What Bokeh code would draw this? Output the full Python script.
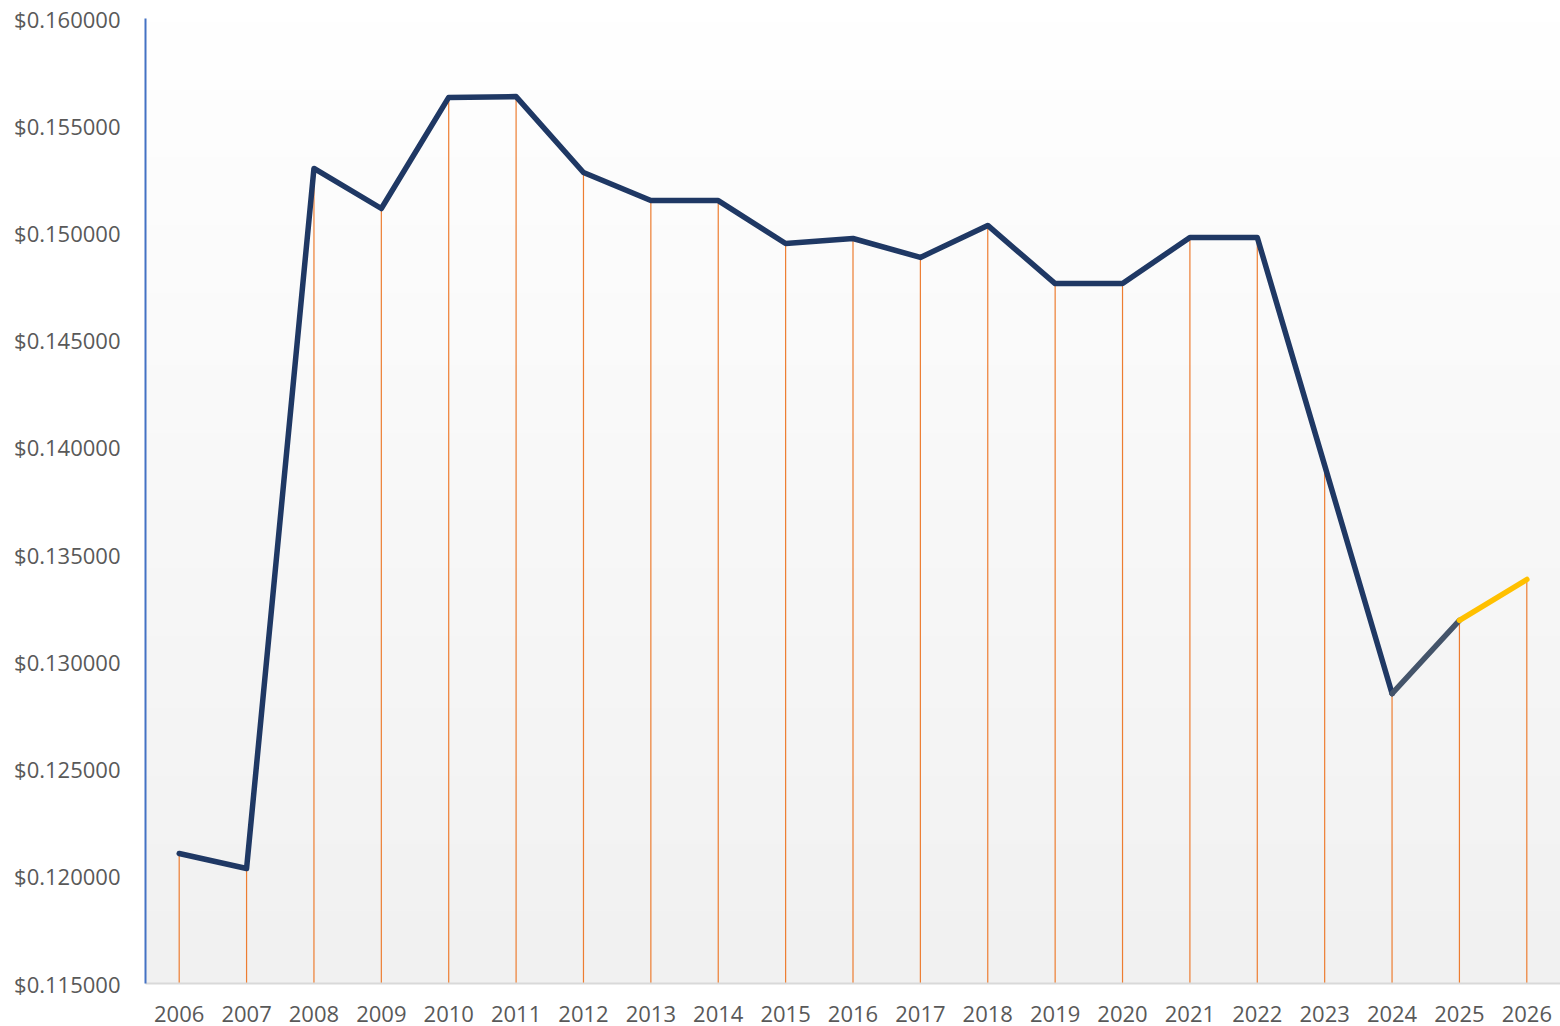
import numpy as np
from bokeh.plotting import figure
from bokeh.models import FixedTicker, NumeralTickFormatter, Range1d
from bokeh.embed import file_html
from bokeh.resources import INLINE

years = [2006, 2007, 2008, 2009, 2010, 2011, 2012, 2013, 2014, 2015, 2016,
         2017, 2018, 2019, 2020, 2021, 2022, 2023, 2024, 2025, 2026]
prices = [0.12106, 0.12036, 0.15301, 0.15114, 0.15632, 0.15636, 0.15282,
          0.15151, 0.15151, 0.14951, 0.14974, 0.14886, 0.15035, 0.14764,
          0.14764, 0.14979, 0.14979, 0.13916, 0.12852, 0.13193, 0.13384]
y_ticks = [0.115, 0.120, 0.125, 0.130, 0.135, 0.140, 0.145, 0.150, 0.155, 0.160]

y_min, y_max = y_ticks[0], y_ticks[-1]
x_min, x_max = years[0] - 0.5, years[-1] + 0.5

p = figure(width=1560, height=1026, output_backend="svg", toolbar_location=None,
           x_range=Range1d(x_min, x_max), y_range=Range1d(y_min, y_max),
           min_border_left=145, min_border_right=0, min_border_top=18, min_border_bottom=43)
p.outline_line_color = None
p.background_fill_color = "white"
p.border_fill_color = "white"

# background gradient (white top -> light grey bottom)
n = 256
vals = np.linspace(241, 255, n).astype(np.uint32)
img = np.empty((n, 1), dtype=np.uint32)
view = img.view(dtype=np.uint8).reshape((n, 1, 4))
view[:, 0, 0] = vals
view[:, 0, 1] = vals
view[:, 0, 2] = vals
view[:, 0, 3] = 255
p.image_rgba(image=[img], x=x_min, y=y_min, dw=x_max - x_min, dh=y_max - y_min)

# grid
p.xgrid.grid_line_color = None
p.ygrid.grid_line_color = "#D9D9D9"
p.ygrid.grid_line_width = 1.5
p.ygrid.level = "image"

# drop lines
p.segment(x0=years, y0=[y_min] * len(years), x1=years, y1=prices,
          line_color="#ED7D31", line_width=1.2)

# main line
n_main = years.index(2024) + 1
p.line(years[:n_main], prices[:n_main], line_color="#1F3864", line_width=5.5, line_cap="round", line_join="round")
i24 = years.index(2024)
p.line(years[i24:i24 + 2], prices[i24:i24 + 2], line_color="#44546A", line_width=5.5, line_cap="round")
i25 = years.index(2025)
p.line(years[i25:i25 + 2], prices[i25:i25 + 2], line_color="#FFC000", line_width=5.5, line_cap="round")

# axes
p.xaxis.ticker = FixedTicker(ticks=years)
p.yaxis.ticker = FixedTicker(ticks=y_ticks)
p.yaxis.formatter = NumeralTickFormatter(format="$0.000000")
for ax in (p.xaxis[0], p.yaxis[0]):
    ax.major_tick_line_color = None
    ax.minor_tick_line_color = None
    ax.major_label_text_font = "Open Sans"
    ax.major_label_text_font_size = "22px"
    ax.major_label_text_color = "#595959"
p.xaxis.axis_line_color = "#D9D9D9"
p.xaxis.axis_line_width = 2
p.xaxis.major_label_standoff = 16
p.yaxis.axis_line_color = "#4472C4"
p.yaxis.axis_line_width = 2
p.yaxis.major_label_standoff = 19

open("out.html", "w").write(file_html(p, INLINE))
